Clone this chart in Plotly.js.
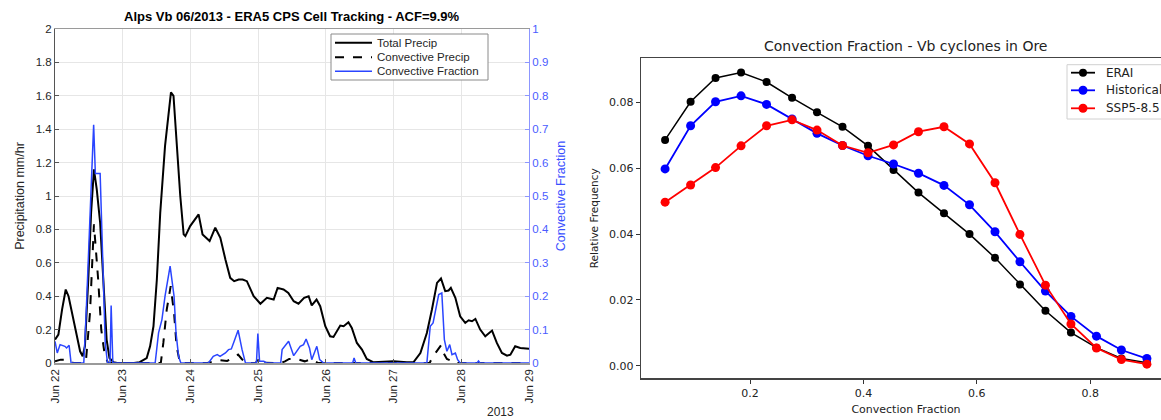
<!DOCTYPE html>
<html>
<head>
<meta charset="utf-8">
<script src="https://cdn.plot.ly/plotly-3.0.1.min.js"></script>
<style>
html,body{margin:0;padding:0;background:#fff;overflow:hidden;width:1161px;height:420px;}
#wrap{width:1161px;height:420px;overflow:hidden;position:relative;}
#chart{width:1175px;height:420px;position:absolute;left:0;top:0;}
</style>
</head>
<body>
<div id="wrap"><div id="chart"></div></div>
<script>
// ---------- Left chart data (hours since 2013-06-22 00:00) ----------
const totalHours = [0,1.2,2.5,3.8,4.8,5.9,7.7,8.9,9.8,10.6,11.8,12.8,13.8,14.8,16.0,17.1,18.3,19.3,20.7,22,28,30,32.5,33.7,34.9,36.1,37.3,39,41.1,42,43.2,44.4,45.6,46.2,47.9,50.9,52.3,54.8,56.8,58.6,60.4,62.1,63.5,65.1,66.5,68,70.4,72.8,75.1,77.5,78.9,81,82.7,84.6,86.3,88.3,89.9,91.0,92.7,94.0,95.8,97.5,98.7,101.1,102.3,104,105.2,107,108.8,110.5,112.9,120,124.7,127.1,129.5,131.8,133.6,135.4,136.8,138.3,139.5,140.3,141.9,143.6,145.4,146.6,147.8,149,150.7,152.5,154.9,156.6,158.4,160.2,161.4,163.1,164.9,168];
const totalPrecip = [0.14,0.17,0.32,0.44,0.40,0.31,0.18,0.07,0.04,0.10,0.50,0.90,1.16,1.04,0.84,0.50,0.14,0.03,0.005,0,0,0.005,0.03,0.10,0.22,0.50,0.90,1.30,1.62,1.60,1.30,1.00,0.77,0.76,0.82,0.89,0.77,0.73,0.81,0.75,0.62,0.51,0.49,0.50,0.50,0.49,0.40,0.355,0.39,0.38,0.45,0.44,0.42,0.37,0.355,0.39,0.40,0.345,0.38,0.34,0.22,0.16,0.156,0.224,0.22,0.244,0.21,0.12,0.08,0.024,0.004,0.01,0.004,0.006,0.06,0.18,0.32,0.48,0.506,0.43,0.434,0.45,0.39,0.28,0.24,0.256,0.25,0.264,0.20,0.16,0.194,0.12,0.06,0.044,0.05,0.10,0.09,0.086];

const convHours = [0,2,4,5.5,6.5,10.5,11,12.4,13.8,15.3,16.4,17.6,18.8,37.5,38.4,39.6,41,42.2,43.1,44.3,54,58.5,61,63,64.9,66.2,67.5,71.2,71.9,73,80,81.5,83,85.7,88.5,91,93,94,132.8,133.6,135.4,136.8,137.7,138.9,140.1,141,168];
const convPrecip = [0.01,0.02,0.02,0.005,0,0,0.02,0.30,0.83,0.50,0.20,0.05,0,0,0.12,0.32,0.46,0.30,0.10,0,0,0.016,0.012,0.03,0.05,0.024,0,0,0.025,0.002,0,0.01,0.024,0.024,0.01,0.024,0.002,0,0,0.03,0.07,0.106,0.06,0.024,0.016,0,0];

const fracHours = [0,0.8,1.8,3.5,4.1,5.0,5.7,10.2,11,12.4,13.7,14.3,16.0,16.6,17.8,18.6,19.5,19.9,20.5,35.5,36.7,37.9,39,40.8,42.2,42.9,43.8,44.6,54.4,56.1,57.5,58.5,60.4,61.5,62.5,63.5,64.9,66.3,67.5,71.4,71.9,72.5,74,75,80,80.5,82.8,84.6,86.9,88.1,89,90.2,91,92.8,93.8,95.2,105.5,106,106.6,131.8,133,134,134.8,136,137.1,138,138.9,139.9,140.7,141.9,142.7,143.6,149.6,150.1,150.6,168];
const convFraction = [0.065,0.03,0.055,0.05,0.045,0.053,0,0,0.14,0.45,0.713,0.567,0.567,0.40,0.06,0,0,0.172,0,0,0.09,0.13,0.20,0.29,0.20,0.09,0.02,0,0,0.02,0.025,0.02,0.03,0.04,0.042,0.065,0.098,0.04,0,0,0.088,0.005,0.005,0,0,0.04,0.065,0.022,0.05,0.055,0.072,0.045,0.01,0.05,0.01,0,0,0.015,0,0,0.11,0.12,0.15,0.205,0.21,0.07,0.035,0.055,0.025,0.03,0.01,0,0,0.006,0,0];

// ---------- Right chart data ----------
const convBins = [0.05,0.095,0.139,0.184,0.229,0.274,0.318,0.363,0.408,0.453,0.497,0.542,0.587,0.632,0.676,0.721,0.766,0.811,0.855,0.9];
const erai = [0.0686,0.0802,0.0874,0.0891,0.0862,0.0814,0.0770,0.0726,0.0668,0.0595,0.0526,0.0463,0.0400,0.0328,0.0247,0.0167,0.0101,0.0055,0.0022,0.0009];
const historical = [0.0598,0.0729,0.0802,0.0820,0.0794,0.0750,0.0706,0.0669,0.0638,0.0613,0.0585,0.0548,0.0489,0.0407,0.0316,0.0227,0.0150,0.0090,0.0048,0.0022];
const ssp585 = [0.0497,0.0549,0.0602,0.0668,0.0729,0.0747,0.0716,0.0669,0.0647,0.0671,0.0711,0.0726,0.0674,0.0556,0.0399,0.0245,0.0127,0.0054,0.0019,0.0005];

const dayTicks = ['2013-06-22','2013-06-23','2013-06-24','2013-06-25','2013-06-26','2013-06-27','2013-06-28','2013-06-29'];
const dayLabels = ['Jun 22','Jun 23','Jun 24','Jun 25','Jun 26','Jun 27','Jun 28','Jun 29'];
const leftNames = ['Total Precip','Convective Precip','Convective Fraction'];
const rightNames = ['ERAI','Historical','SSP5-8.5'];

const toDate = h => new Date(Date.UTC(2013,5,22) + h*3600e3).toISOString().slice(0,19).replace('T',' ');

const W = 1175, H = 420;          // figure is a little wider than the window: right edge is cropped like the reference
const px = v => v / W;
const py = v => (H - v) / H;

const ML = 'Liberation Sans, Arial, sans-serif';
const MPL = 'DejaVu Sans, sans-serif';
const BLUE = '#2a45ff';
const leftStyles = [
  {color:'#000', width:2, dash:'solid'},
  {color:'#000', width:2, dash:'dash'},
  {color:BLUE, width:1.5, dash:'solid'}
];
const rightColors = ['#000000','#0000ff','#ff0000'];
const rightSizes = [8, 9, 9];

const traces = [
  {x: totalHours.map(toDate), y: totalPrecip, type:'scatter', mode:'lines', name:leftNames[0],
   line:leftStyles[0], xaxis:'x', yaxis:'y'},
  {x: convHours.map(toDate), y: convPrecip, type:'scatter', mode:'lines', name:leftNames[1],
   line:leftStyles[1], xaxis:'x', yaxis:'y'},
  {x: fracHours.map(toDate), y: convFraction, type:'scatter', mode:'lines', name:leftNames[2],
   line:leftStyles[2], xaxis:'x', yaxis:'y2'}
];
[erai, historical, ssp585].forEach((s, i) => traces.push({
  x: convBins, y: s, type:'scatter', mode:'lines+markers', name: rightNames[i],
  line:{color:rightColors[i], width: i === 0 ? 1.5 : 1.8},
  marker:{color:rightColors[i], size:rightSizes[i]}, xaxis:'x2', yaxis:'y3'
}));

// ---------- legends drawn as shapes + text ----------
const shapes = [];
const annotations = [];
// left (MATLAB-style) legend
shapes.push({type:'rect', xref:'paper', yref:'paper', x0:px(331), x1:px(488), y0:py(80), y1:py(34),
  line:{color:'#8a8a8a', width:1}, fillcolor:'#ffffff', layer:'above'});
const leftRows = [42.7, 57.3, 71.3];
leftNames.forEach((n, i) => {
  shapes.push({type:'line', xref:'paper', yref:'paper', x0:px(335), x1:px(372), y0:py(leftRows[i]), y1:py(leftRows[i]),
    line:{color:leftStyles[i].color, width:leftStyles[i].width, dash:leftStyles[i].dash}, layer:'above'});
  annotations.push({text:n, xref:'paper', yref:'paper', x:px(375), y:py(leftRows[i]), xanchor:'left', yanchor:'middle',
    showarrow:false, font:{family:ML, size:11.5, color:'#262626'}});
});
// right (matplotlib-style) legend
shapes.push({type:'rect', xref:'paper', yref:'paper', x0:px(1067), x1:px(1190), y0:py(119), y1:py(64.7),
  line:{color:'#d0d0d0', width:1}, fillcolor:'rgba(255,255,255,0.8)', layer:'above'});
const rightRows = [72.7, 90.3, 108.3];
rightNames.forEach((n, i) => {
  shapes.push({type:'line', xref:'paper', yref:'paper', x0:px(1071), x1:px(1095), y0:py(rightRows[i]), y1:py(rightRows[i]),
    line:{color:rightColors[i], width:1.8}, layer:'above'});
  const r = rightSizes[i] / 2;
  shapes.push({type:'circle', xref:'paper', yref:'paper', x0:px(1083 - r), x1:px(1083 + r),
    y0:py(rightRows[i] + r), y1:py(rightRows[i] - r), line:{width:0}, fillcolor:rightColors[i], layer:'above'});
  annotations.push({text:n, xref:'paper', yref:'paper', x:px(1104), y:py(rightRows[i]), xanchor:'left', yanchor:'middle',
    showarrow:false, font:{family:MPL, size:12, color:'#222'}});
});

annotations.push(
  {text:'<b>Alps Vb 06/2013 - ERA5 CPS Cell Tracking - ACF=9.9%</b>', xref:'paper', yref:'paper',
   x: px(292), y: py(17), xanchor:'center', yanchor:'middle', showarrow:false,
   font:{family:ML, size:13, color:'#000'}},
  {text:'2013', xref:'paper', yref:'paper', x: px(500), y: py(412), xanchor:'center', yanchor:'middle',
   showarrow:false, font:{family:ML, size:12, color:'#262626'}},
  {text:'Convection Fraction - Vb cyclones in Ore', xref:'paper', yref:'paper',
   x: px(905.5), y: py(46), xanchor:'center', yanchor:'middle', showarrow:false,
   font:{family:MPL, size:14, color:'#222'}}
);

const layout = {
  width: W, height: H,
  margin: {l:0, r:0, t:0, b:0},
  paper_bgcolor:'#fff', plot_bgcolor:'#fff',
  showlegend: false,
  xaxis: {
    domain:[px(55), px(529)], anchor:'y', type:'date',
    range:['2013-06-22 00:00','2013-06-29 00:00'],
    tickvals: dayTicks, ticktext: dayLabels, tickangle:-90,
    tickfont:{family:ML, size:11.5, color:'#262626'},
    ticks:'inside', ticklen:4, tickcolor:'#555',
    showgrid:true, gridcolor:'#e6e6e6', zeroline:false,
    showline:true, linecolor:'#9a9a9a', linewidth:1.5, mirror:true
  },
  yaxis: {
    domain:[py(363), py(29)], anchor:'x', range:[0,2], dtick:0.2, tick0:0,
    tickfont:{family:ML, size:11.5, color:'#262626'},
    ticks:'inside', ticklen:4, tickcolor:'#555',
    showgrid:true, gridcolor:'#e6e6e6', zeroline:false,
    showline:true, linecolor:'#555', linewidth:1,
    title:{text:'Precipitation mm/hr', font:{family:ML, size:12.5, color:'#262626'}, standoff:8}
  },
  yaxis2: {
    overlaying:'y', side:'right', anchor:'x', range:[0,1], dtick:0.1, tick0:0,
    tickfont:{family:ML, size:11.5, color:'#4a5cff'},
    ticks:'inside', ticklen:4, tickcolor:'#8c96ff',
    showgrid:false, zeroline:false,
    showline:true, linecolor:'#8c96ff', linewidth:1,
    title:{text:'Convective Fraction', font:{family:ML, size:12.5, color:'#3a50ff'}, standoff:8}
  },
  xaxis2: {
    domain:[px(641), px(1171)], anchor:'y3', range:[0.0075, 0.9425],
    tickvals:[0.2,0.4,0.6,0.8], ticktext:['0.2','0.4','0.6','0.8'],
    tickfont:{family:MPL, size:11, color:'#222'},
    ticks:'outside', ticklen:4, tickcolor:'#333',
    showgrid:false, zeroline:false,
    showline:true, linecolor:'#444', linewidth:1.2, mirror:true,
    title:{text:'Convection Fraction', font:{family:MPL, size:11, color:'#222'}, standoff:6}
  },
  yaxis3: {
    domain:[py(378.3), py(58.3)], anchor:'x2', range:[-0.0038, 0.0934],
    tickvals:[0,0.02,0.04,0.06,0.08], ticktext:['0.00','0.02','0.04','0.06','0.08'],
    tickfont:{family:MPL, size:11, color:'#222'},
    ticks:'outside', ticklen:4, tickcolor:'#333',
    showgrid:false, zeroline:false,
    showline:true, linecolor:'#444', linewidth:1.2, mirror:true,
    title:{text:'Relative Frequency', font:{family:MPL, size:10.5, color:'#222'}, standoff:8}
  },
  shapes: shapes,
  annotations: annotations
};

Plotly.newPlot('chart', traces, layout, {displayModeBar:false, staticPlot:true});
</script>
</body>
</html>
